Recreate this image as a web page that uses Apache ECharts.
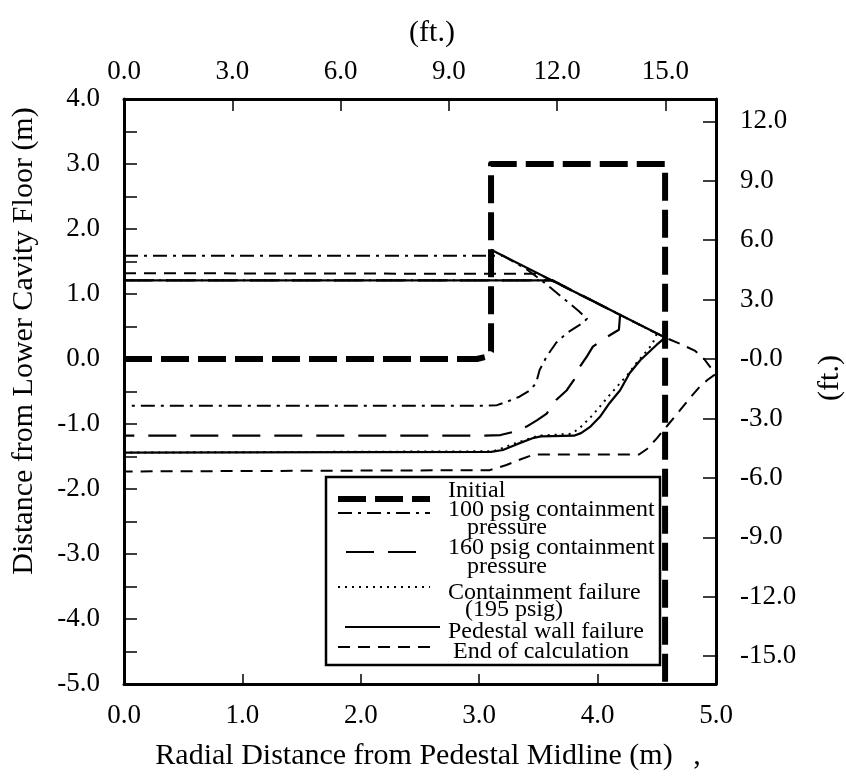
<!DOCTYPE html>
<html>
<head>
<meta charset="utf-8">
<title>Cavity erosion profiles</title>
<script src="https://cdn.jsdelivr.net/npm/echarts@6.0.0/dist/echarts.min.js"></script>
<style>
  html, body { margin: 0; padding: 0; background: #fff; }
  #chart { width: 846px; height: 778px; }
</style>
</head>
<body>
<div id="chart"></div>
<script>
// Unit conversion between the metre axes and the foot axes
const M_PER_FT = 0.3048;

// Tick labels on the foot axes (top and right)
const ftTicksTop = [0, 3, 6, 9, 12, 15];
const ftTicksRight = [-15, -12, -9, -6, -3, 0, 3, 6, 9, 12];

// Profiles: radial distance (m) and elevation above lower cavity floor (m)
const initialX = [0, 2.98, 3.07, 3.1, 3.1, 4.57, 4.57];
const initialY = [0, 0, 0.04, 0.12, 3.0, 3.0, -5.0];

const psig100X = [0, 3.2, 3.4, 3.54, 3.7, 3.84, 3.91, 3.88, 3.74, 3.65, 3.57, 3.51, 3.48, 3.43, 3.34, 3.23, 3.15, 3.0, 0];
const psig100Y = [1.59, 1.59, 1.38, 1.19, 0.95, 0.74, 0.62, 0.56, 0.40, 0.25, 0.04, -0.17, -0.37, -0.48, -0.58, -0.66, -0.71, -0.72, -0.72];

const psig160X = [0, 3.62, 4.19, 4.18, 4.08, 3.96, 3.91, 3.85, 3.80, 3.74, 3.65, 3.57, 3.49, 3.40, 3.29, 3.18, 3.0, 0];
const psig160Y = [1.21, 1.21, 0.68, 0.45, 0.34, 0.19, 0.04, -0.12, -0.32, -0.48, -0.63, -0.84, -0.94, -1.04, -1.12, -1.17, -1.18, -1.18];

const contFailX = [0, 3.62, 4.5, 4.46, 4.38, 4.32, 4.25, 4.19, 4.08, 3.96, 3.85, 3.78, 3.5, 3.3, 3.12, 0];
const contFailY = [1.21, 1.21, 0.39, 0.22, 0.05, -0.08, -0.25, -0.37, -0.6, -0.86, -1.06, -1.15, -1.18, -1.3, -1.42, -1.44];

const pedestalX = [0, 3.62, null, 3.1, 4.57, 4.5, 4.43, 4.36, 4.27, 4.19, 4.10, 4.02, 3.94, 3.86, 3.80, 3.52, 3.45, 3.32, 3.2, 3.1, 0];
const pedestalY = [1.21, 1.21, null, 1.68, 0.33, 0.22, 0.1, -0.02, -0.22, -0.48, -0.68, -0.89, -1.04, -1.14, -1.18, -1.19, -1.22, -1.31, -1.4, -1.43, -1.44];

const endCalcX = [0, 3.5, 4.57, 4.7, 4.82, 4.9, 4.95, 4.99, 4.93, 4.86, 4.78, 4.7, 4.6, 4.5, 4.42, 4.35, 3.46, 3.34, 3.23, 3.09, 0];
const endCalcY = [1.32, 1.31, 0.33, 0.23, 0.13, 0.0, -0.12, -0.24, -0.32, -0.43, -0.6, -0.78, -1.0, -1.22, -1.38, -1.47, -1.47, -1.55, -1.63, -1.71, -1.73];

// Line styles shared by the curves and the legend samples
const styles = {
  initial:  { width: 6,   dash: [28, 9] },
  psig100:  { width: 2,   dash: [14, 6, 3, 6] },
  psig160:  { width: 2.2, dash: [28, 14] },
  contFail: { width: 2,   dash: [2, 5] },
  pedestal: { width: 2.2, dash: null },
  endCalc:  { width: 2,   dash: [12, 8] }
};

const FONT = '"Liberation Serif", "Times New Roman", serif';

function pairs(xs, ys) {
  return xs.map((x, i) => (x === null ? ['-', '-'] : [x, ys[i]]));
}

function lineSeries(name, xs, ys, st) {
  return {
    name: name,
    type: 'line',
    xAxisIndex: 0,
    yAxisIndex: 0,
    data: pairs(xs, ys),
    symbol: 'none',
    connectNulls: false,
    silent: true,
    lineStyle: {
      color: '#000',
      width: st.width,
      type: st.dash ? st.dash : 'solid',
      cap: 'butt',
      join: 'round'
    }
  };
}

const fmt1 = v => v.toFixed(1);
const axisLineStyle = { show: true, onZero: false, lineStyle: { color: '#000', width: 3 } };
const labelStyle = { color: '#000', fontFamily: FONT, fontSize: 27 };

// Legend drawn as a boxed key with sample strokes
const legendRows = [
  { st: styles.initial,  x1: 338, x2: 430, y: 499, lines: [{ t: 'Initial', x: 448, y: 491 }] },
  { st: styles.psig100,  x1: 338, x2: 430, y: 513, lines: [{ t: '100 psig containment', x: 448, y: 510 }, { t: 'pressure', x: 467, y: 528 }] },
  { st: styles.psig160,  x1: 346, x2: 430, y: 552, lines: [{ t: '160 psig containment', x: 448, y: 548 }, { t: 'pressure', x: 467, y: 567 }] },
  { st: styles.contFail, x1: 338, x2: 430, y: 587, lines: [{ t: 'Containment failure', x: 448, y: 593 }, { t: '(195 psig)', x: 465, y: 610 }] },
  { st: styles.pedestal, x1: 345, x2: 440, y: 627, lines: [{ t: 'Pedestal wall failure', x: 448, y: 632 }] },
  { st: styles.endCalc,  x1: 338, x2: 430, y: 647, lines: [{ t: 'End of calculation', x: 453, y: 652 }] }
];

const legendGraphics = [{
  type: 'rect', z: 100,
  shape: { x: 326, y: 477, width: 334, height: 188 },
  style: { fill: '#fff', stroke: '#000', lineWidth: 2.5 }
}];
legendRows.forEach(r => {
  legendGraphics.push({
    type: 'line', z: 101,
    shape: { x1: r.x1, y1: r.y, x2: r.x2, y2: r.y },
    style: { stroke: '#000', lineWidth: r.st.width, lineDash: r.st.dash || null }
  });
  r.lines.forEach(l => {
    legendGraphics.push({
      type: 'text', z: 101, x: l.x, y: l.y,
      style: { text: l.t, fill: '#000', font: '24px ' + FONT, textAlign: 'left', textVerticalAlign: 'middle' }
    });
  });
});

const titleGraphics = [
  { type: 'text', x: 24, y: 341, rotation: Math.PI / 2,
    style: { text: 'Distance from Lower Cavity Floor (m)', fill: '#000', font: '30px ' + FONT, textAlign: 'center', textVerticalAlign: 'middle' } },
  { type: 'text', x: 414, y: 756,
    style: { text: 'Radial Distance from Pedestal Midline (m)', fill: '#000', font: '30px ' + FONT, textAlign: 'center', textVerticalAlign: 'middle' } },
  { type: 'text', x: 697, y: 756,
    style: { text: ',', fill: '#000', font: '30px ' + FONT, textAlign: 'center', textVerticalAlign: 'middle' } },
  { type: 'text', x: 432, y: 33,
    style: { text: '(ft.)', fill: '#000', font: '30px ' + FONT, textAlign: 'center', textVerticalAlign: 'middle' } },
  { type: 'text', x: 830, y: 378, rotation: Math.PI / 2,
    style: { text: '(ft.)', fill: '#000', font: '30px ' + FONT, textAlign: 'center', textVerticalAlign: 'middle' } }
];

const chart = echarts.init(document.getElementById('chart'), null, { renderer: 'canvas' });
chart.setOption({
  animation: false,
  backgroundColor: '#fff',
  grid: { left: 124, right: 130, top: 99, bottom: 94, containLabel: false },
  xAxis: [
    {
      type: 'value', position: 'bottom', min: 0, max: 5, interval: 1,
      axisLine: axisLineStyle,
      axisTick: { show: true, inside: true, length: 10, lineStyle: { color: '#000', width: 1.5 } },
      axisLabel: Object.assign({ margin: 18, formatter: fmt1, showMinLabel: true, showMaxLabel: true }, labelStyle),
      splitLine: { show: false }
    },
    {
      type: 'value', position: 'top', min: 0, max: 5 / M_PER_FT,
      axisLine: axisLineStyle,
      axisTick: { show: true, inside: true, length: 12, customValues: ftTicksTop, lineStyle: { color: '#000', width: 1.5 } },
      axisLabel: Object.assign({ margin: 14, formatter: fmt1, customValues: ftTicksTop }, labelStyle),
      splitLine: { show: false }
    }
  ],
  yAxis: [
    {
      type: 'value', position: 'left', min: -5, max: 4, interval: 1,
      axisLine: axisLineStyle,
      axisTick: { show: true, inside: true, length: 13, lineStyle: { color: '#000', width: 1.5 } },
      minorTick: { show: true, splitNumber: 2, length: 13, lineStyle: { color: '#000', width: 1.5 } },
      axisLabel: Object.assign({ margin: 24, formatter: fmt1, showMinLabel: true, showMaxLabel: true }, labelStyle),
      splitLine: { show: false },
      minorSplitLine: { show: false }
    },
    {
      type: 'value', position: 'right', min: -5 / M_PER_FT, max: 4 / M_PER_FT,
      axisLine: axisLineStyle,
      axisTick: { show: true, inside: true, length: 13, customValues: ftTicksRight, lineStyle: { color: '#000', width: 1.5 } },
      axisLabel: Object.assign({ margin: 24, customValues: ftTicksRight, formatter: v => (v === 0 ? '-0.0' : v.toFixed(1)) }, labelStyle),
      splitLine: { show: false }
    }
  ],
  series: [
    lineSeries('End of calculation', endCalcX, endCalcY, styles.endCalc),
    lineSeries('Containment failure (195 psig)', contFailX, contFailY, styles.contFail),
    lineSeries('160 psig containment pressure', psig160X, psig160Y, styles.psig160),
    lineSeries('100 psig containment pressure', psig100X, psig100Y, styles.psig100),
    lineSeries('Pedestal wall failure', pedestalX, pedestalY, styles.pedestal),
    lineSeries('Initial', initialX, initialY, styles.initial)
  ],
  graphic: titleGraphics.concat(legendGraphics)
});
</script>
</body>
</html>
